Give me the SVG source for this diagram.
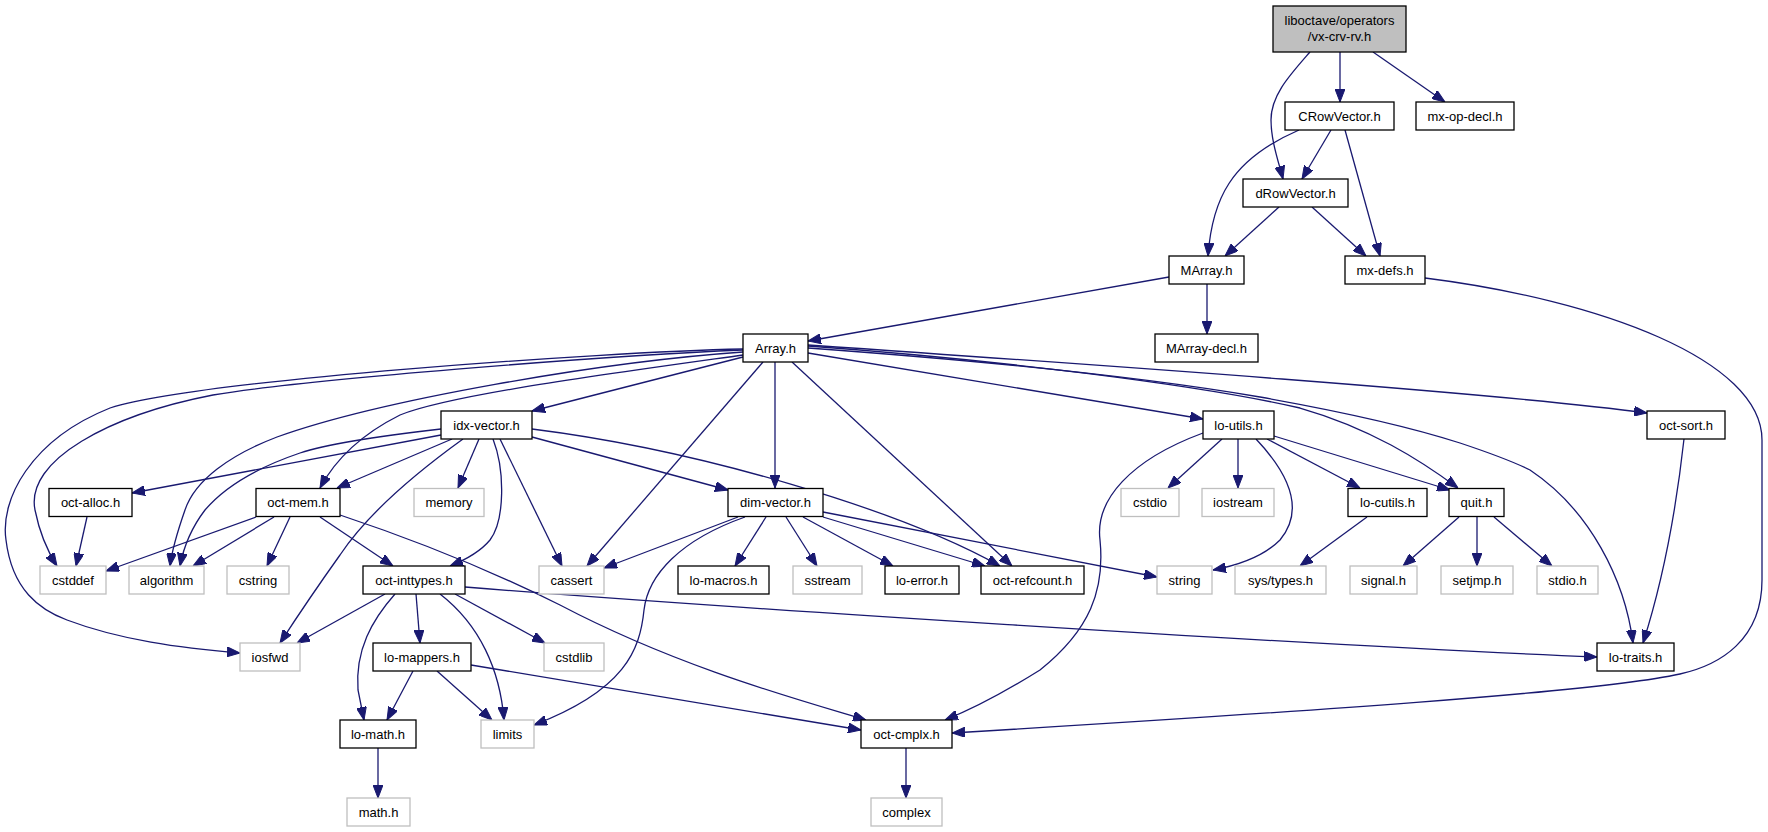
<svg xmlns="http://www.w3.org/2000/svg" width="1768" height="832" viewBox="0 0 1768 832">
<style>
.n rect{fill:#fff;stroke:#000;stroke-width:1.3}
.s rect{fill:#fff;stroke:#bfbfbf;stroke-width:1.3}
.root rect{fill:#bfbfbf;stroke:#000;stroke-width:1.3}
text{font-family:"Liberation Sans",Arial,sans-serif;font-size:13px;fill:#000;text-anchor:middle}
#edges path{fill:none;stroke:#191970;stroke-width:1.3;marker-end:url(#ah)}
</style>
<defs>
<marker id="ah" markerUnits="userSpaceOnUse" markerWidth="13" markerHeight="10" viewBox="0 0 13 10" refX="13" refY="5" orient="auto">
<path d="M0,0 L13,5 L0,10 z" fill="#191970" stroke="#191970" stroke-width="1"/>
</marker>
</defs>
<rect width="1768" height="832" fill="#fff"/>
<g id="edges">
<path d="M1340,52 L1340,102"/>
<path d="M1310,52 C1290,75 1271,95 1271,120 C1271,140 1278,160 1283,179"/>
<path d="M1373,52 L1445,102"/>
<path d="M1299,130 C1230,160 1212,200 1208,256"/>
<path d="M1331,130 L1302,179"/>
<path d="M1345,130 L1380,256"/>
<path d="M1279,207 L1225,256"/>
<path d="M1312,207 L1366,256"/>
<path d="M1169,277 L808,341"/>
<path d="M1207,284 L1207,334"/>
<path d="M1425,278 C1600,300 1762,360 1762,440 L1762,580 C1762,640 1720,665 1680,674 C1600,692 1300,712 952,733"/>
<path d="M743,357 L532,411"/>
<path d="M743,355 C600,375 450,395 400,415 C360,435 335,460 320,488"/>
<path d="M743,352 C600,362 380,400 277,437 C230,455 195,480 185,510 C178,530 172,550 170,566"/>
<path d="M743,350 C600,356 300,380 213,395 C110,415 25,460 35,510 C40,535 48,552 57,566"/>
<path d="M743,349 C600,352 200,380 110,408 C30,440 0,500 6,540 C12,590 40,610 67,620 C120,640 180,648 240,653"/>
<path d="M763,362 L587,566"/>
<path d="M775,362 L775,488"/>
<path d="M792,362 L1012,566"/>
<path d="M808,353 L1203,419"/>
<path d="M808,346 C1000,360 1200,385 1300,408 C1370,428 1420,460 1458,488"/>
<path d="M808,348 C1000,362 1150,378 1260,397 C1350,413 1420,430 1460,443 C1490,453 1510,460 1530,470 C1590,510 1625,580 1633,643"/>
<path d="M808,345 C1100,365 1500,393 1647,413"/>
<path d="M441,435 L132,493"/>
<path d="M441,429 C380,436 330,443 300,453 C250,470 222,490 205,510 C192,527 184,545 180,566"/>
<path d="M452,439 L337,488"/>
<path d="M463,439 C420,470 370,510 340,555 C315,590 295,620 280,643"/>
<path d="M479,439 L458,488"/>
<path d="M493,439 C505,470 505,520 490,540 C480,552 465,560 450,566"/>
<path d="M500,439 L562,566"/>
<path d="M532,437 L728,490"/>
<path d="M532,429 C700,450 900,510 1000,566"/>
<path d="M87,517 L76,566"/>
<path d="M256,517 L106,571"/>
<path d="M274,517 L193,566"/>
<path d="M290,517 L267,566"/>
<path d="M320,517 L393,566"/>
<path d="M340,515 C430,545 500,575 560,605 C680,668 800,700 866,720"/>
<path d="M385,594 L297,643"/>
<path d="M395,594 C372,620 355,650 358,690 C360,700 362,710 364,720"/>
<path d="M416,594 L420,643"/>
<path d="M440,594 C480,625 500,670 504,720"/>
<path d="M455,594 L545,643"/>
<path d="M465,587 C700,606 1300,645 1597,657"/>
<path d="M413,671 L387,720"/>
<path d="M437,671 L492,720"/>
<path d="M471,665 L861,730"/>
<path d="M378,748 L378,798"/>
<path d="M906,748 L906,798"/>
<path d="M738,517 L604,568"/>
<path d="M745,517 C680,540 648,575 644,610 C640,650 625,690 534,725"/>
<path d="M766,517 L735,566"/>
<path d="M786,517 L817,566"/>
<path d="M803,517 L893,566"/>
<path d="M823,517 L985,566"/>
<path d="M823,512 L1157,577"/>
<path d="M1203,433 C1130,460 1095,500 1100,540 C1105,590 1090,630 1040,670 C1000,695 970,710 945,720"/>
<path d="M1222,439 L1168,488"/>
<path d="M1238,439 L1238,488"/>
<path d="M1256,439 C1290,475 1305,510 1280,540 C1265,555 1240,565 1213,570"/>
<path d="M1267,439 L1360,488"/>
<path d="M1274,436 L1450,490"/>
<path d="M1367,517 L1300,566"/>
<path d="M1459,517 L1403,566"/>
<path d="M1477,517 L1477,566"/>
<path d="M1494,517 L1552,566"/>
<path d="M1684,439 C1675,520 1660,590 1643,643"/>
</g>
<g id="vx-crv-rv" class="root"><rect x="1273" y="6" width="133" height="46"/><text x="1339.5" y="25">liboctave/operators</text><text x="1339.5" y="41">/vx-crv-rv.h</text></g>
<g id="CRowVector" class="n"><rect x="1285" y="102" width="109" height="28"/><text x="1339.5" y="120.5">CRowVector.h</text></g>
<g id="mx-op-decl" class="n"><rect x="1416" y="102" width="98" height="28"/><text x="1465" y="120.5">mx-op-decl.h</text></g>
<g id="dRowVector" class="n"><rect x="1243" y="179" width="105" height="28"/><text x="1295.5" y="197.5">dRowVector.h</text></g>
<g id="MArray" class="n"><rect x="1169" y="256" width="75" height="28"/><text x="1206.5" y="274.5">MArray.h</text></g>
<g id="mx-defs" class="n"><rect x="1345" y="256" width="80" height="28"/><text x="1385" y="274.5">mx-defs.h</text></g>
<g id="Array" class="n"><rect x="743" y="334" width="65" height="28"/><text x="775.5" y="352.5">Array.h</text></g>
<g id="MArray-decl" class="n"><rect x="1155" y="334" width="103" height="28"/><text x="1206.5" y="352.5">MArray-decl.h</text></g>
<g id="idx-vector" class="n"><rect x="441" y="411" width="91" height="28"/><text x="486.5" y="429.5">idx-vector.h</text></g>
<g id="lo-utils" class="n"><rect x="1203" y="411" width="71" height="28"/><text x="1238.5" y="429.5">lo-utils.h</text></g>
<g id="oct-sort" class="n"><rect x="1647" y="411" width="78" height="28"/><text x="1686" y="429.5">oct-sort.h</text></g>
<g id="oct-alloc" class="n"><rect x="49" y="488.5" width="83" height="28"/><text x="90.5" y="507">oct-alloc.h</text></g>
<g id="oct-mem" class="n"><rect x="256" y="488.5" width="84" height="28"/><text x="298" y="507">oct-mem.h</text></g>
<g id="memory" class="s"><rect x="414" y="488.5" width="70" height="28"/><text x="449" y="507">memory</text></g>
<g id="dim-vector" class="n"><rect x="728" y="488.5" width="95" height="28"/><text x="775.5" y="507">dim-vector.h</text></g>
<g id="cstdio" class="s"><rect x="1121" y="488.5" width="58" height="28"/><text x="1150" y="507">cstdio</text></g>
<g id="iostream" class="s"><rect x="1202" y="488.5" width="72" height="28"/><text x="1238" y="507">iostream</text></g>
<g id="lo-cutils" class="n"><rect x="1348" y="488.5" width="79" height="28"/><text x="1387.5" y="507">lo-cutils.h</text></g>
<g id="quit" class="n"><rect x="1449" y="488.5" width="55" height="28"/><text x="1476.5" y="507">quit.h</text></g>
<g id="cstddef" class="s"><rect x="40" y="566" width="66" height="28"/><text x="73" y="584.5">cstddef</text></g>
<g id="algorithm" class="s"><rect x="129" y="566" width="75" height="28"/><text x="166.5" y="584.5">algorithm</text></g>
<g id="cstring" class="s"><rect x="227" y="566" width="62" height="28"/><text x="258" y="584.5">cstring</text></g>
<g id="oct-inttypes" class="n"><rect x="363" y="566" width="102" height="28"/><text x="414" y="584.5">oct-inttypes.h</text></g>
<g id="cassert" class="s"><rect x="539" y="566" width="65" height="28"/><text x="571.5" y="584.5">cassert</text></g>
<g id="lo-macros" class="n"><rect x="678" y="566" width="91" height="28"/><text x="723.5" y="584.5">lo-macros.h</text></g>
<g id="sstream" class="s"><rect x="793" y="566" width="69" height="28"/><text x="827.5" y="584.5">sstream</text></g>
<g id="lo-error" class="n"><rect x="885" y="566" width="74" height="28"/><text x="922" y="584.5">lo-error.h</text></g>
<g id="oct-refcount" class="n"><rect x="981" y="566" width="103" height="28"/><text x="1032.5" y="584.5">oct-refcount.h</text></g>
<g id="string" class="s"><rect x="1157" y="566" width="55" height="28"/><text x="1184.5" y="584.5">string</text></g>
<g id="sys-types" class="s"><rect x="1235" y="566" width="91" height="28"/><text x="1280.5" y="584.5">sys/types.h</text></g>
<g id="signal" class="s"><rect x="1350" y="566" width="67" height="28"/><text x="1383.5" y="584.5">signal.h</text></g>
<g id="setjmp" class="s"><rect x="1441" y="566" width="72" height="28"/><text x="1477" y="584.5">setjmp.h</text></g>
<g id="stdio" class="s"><rect x="1537" y="566" width="61" height="28"/><text x="1567.5" y="584.5">stdio.h</text></g>
<g id="iosfwd" class="s"><rect x="240" y="643" width="60" height="28"/><text x="270" y="661.5">iosfwd</text></g>
<g id="lo-mappers" class="n"><rect x="373" y="643" width="98" height="28"/><text x="422" y="661.5">lo-mappers.h</text></g>
<g id="cstdlib" class="s"><rect x="544" y="643" width="60" height="28"/><text x="574" y="661.5">cstdlib</text></g>
<g id="lo-traits" class="n"><rect x="1597" y="643" width="77" height="28"/><text x="1635.5" y="661.5">lo-traits.h</text></g>
<g id="lo-math" class="n"><rect x="340" y="720" width="76" height="28"/><text x="378" y="738.5">lo-math.h</text></g>
<g id="limits" class="s"><rect x="481" y="720" width="53" height="28"/><text x="507.5" y="738.5">limits</text></g>
<g id="oct-cmplx" class="n"><rect x="861" y="720" width="91" height="28"/><text x="906.5" y="738.5">oct-cmplx.h</text></g>
<g id="math" class="s"><rect x="347" y="798" width="63" height="28"/><text x="378.5" y="816.5">math.h</text></g>
<g id="complex" class="s"><rect x="871" y="798" width="71" height="28"/><text x="906.5" y="816.5">complex</text></g>
</svg>
